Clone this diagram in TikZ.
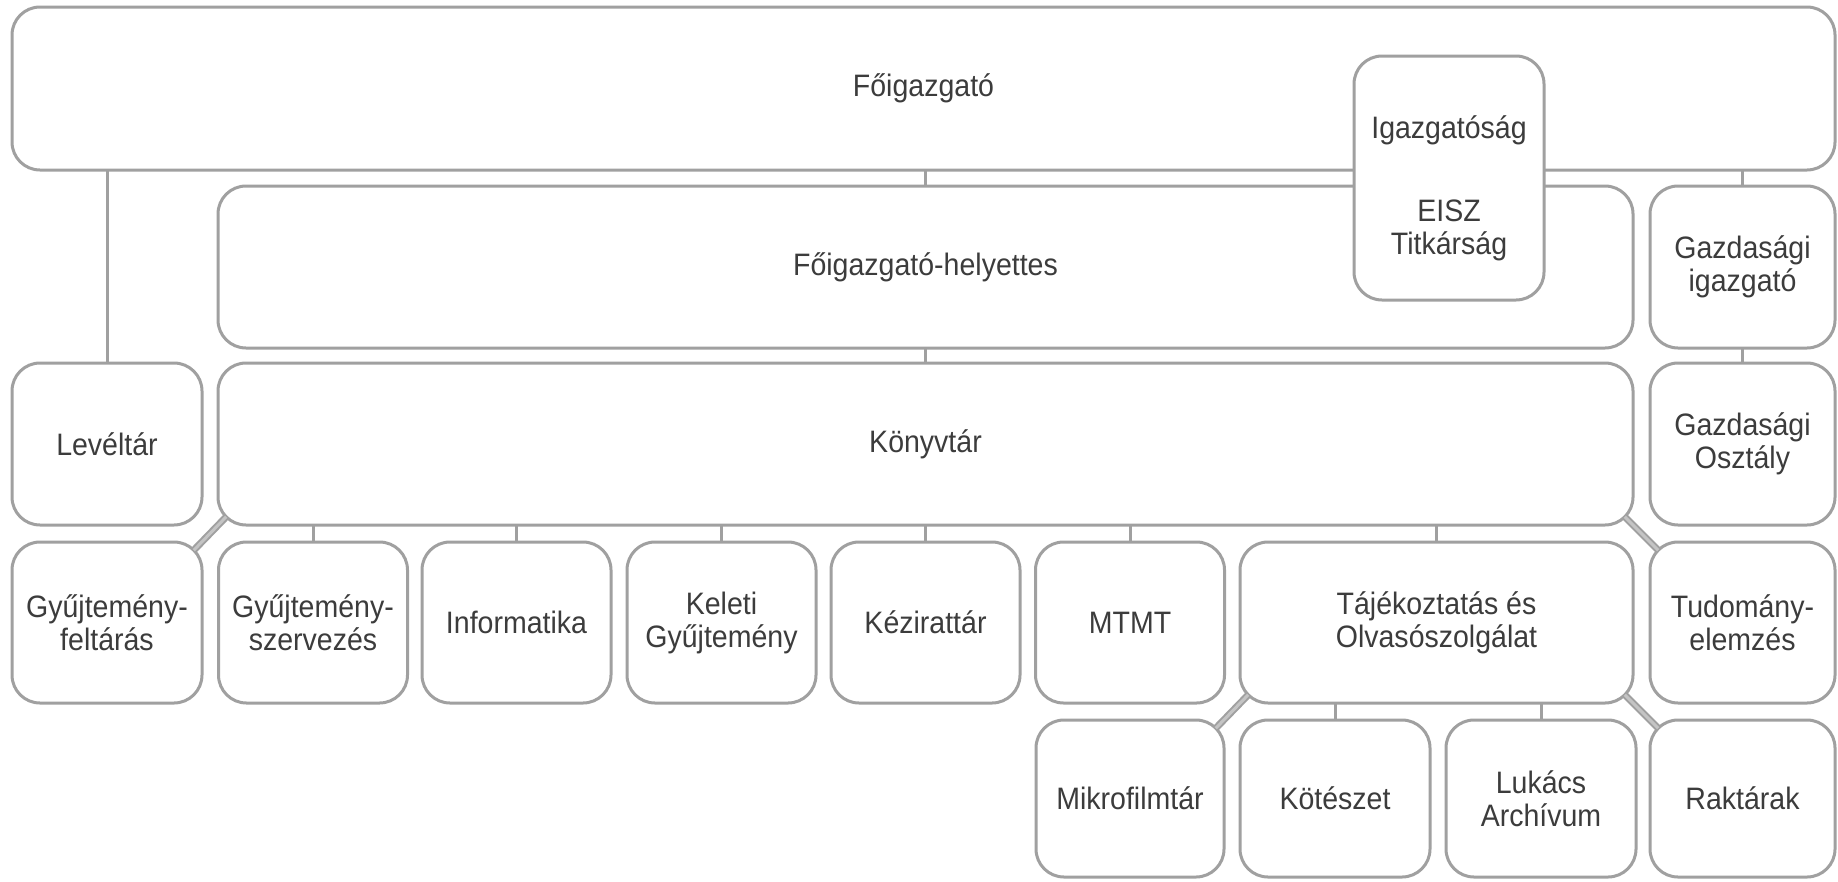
\documentclass[tikz,border=0pt]{standalone}
\usepackage{fontspec}
\setmainfont{Liberation Sans}[FakeStretch=0.92]
\usetikzlibrary{calc}
\definecolor{linegray}{HTML}{A0A0A0}
\definecolor{textgray}{HTML}{3C3C3C}
\definecolor{diagin}{HTML}{C4C4C4}
\begin{document}
\begin{tikzpicture}[x=1pt,y=-1pt,
  box/.style={draw=linegray, line width=3pt, rounded corners=28pt, fill=white,
    align=center, inner sep=0pt, outer sep=0pt, text=textgray,
    font=\fontsize{31}{33}\selectfont},
  conn/.style={draw=linegray, line width=3pt},
  diag/.style={draw=linegray, line width=2pt, double=diagin, double distance=3pt},
  txt/.style={align=center, inner sep=0pt, text=textgray, font=\fontsize{31}{33}\selectfont}]
\fill[white] (0,0) rectangle (1838,881);
\useasboundingbox (0,0) rectangle (1838,881);
% level 0
\node[box, minimum width=1823pt, minimum height=163pt] (fo) at (923.5,88.5) {Főigazgató};
% level 1
\node[box, minimum width=1415pt, minimum height=162pt] (helyettes) at (925.5,267) {Főigazgató-helyettes};
\node[box, minimum width=185pt, minimum height=162pt] (gazdig) at (1742.5,267) {Gazdasági\\igazgató};
% Igazgatóság (overlapping)
\node[box, minimum width=190pt, minimum height=244pt] (igaz) at (1449,178) {};
\node[txt] (igaztext) at (1449,188) {Igazgatóság\\[50pt]EISZ\\Titkárság};
% level 2
\node[box, minimum width=190pt, minimum height=162pt] (leveltar) at (107,444) {Levéltár};
\node[box, minimum width=1415pt, minimum height=162pt] (konyvtar) at (925.5,444) {Könyvtár};
\node[box, minimum width=185pt, minimum height=162pt] (gazdoszt) at (1742.5,444) {Gazdasági\\Osztály};
% level 3
\node[box, minimum width=190pt, minimum height=161pt] (gyf) at (107,622.5) {Gyűjtemény-\\feltárás};
\node[box, minimum width=189pt, minimum height=161pt] (gysz) at (313,622.5) {Gyűjtemény-\\szervezés};
\node[box, minimum width=189pt, minimum height=161pt] (inf) at (516.5,622.5) {Informatika};
\node[box, minimum width=189pt, minimum height=161pt] (kel) at (721.5,622.5) {Keleti\\Gyűjtemény};
\node[box, minimum width=189pt, minimum height=161pt] (kez) at (925.5,622.5) {Kézirattár};
\node[box, minimum width=189pt, minimum height=161pt] (mtmt) at (1130,622.5) {MTMT};
\node[box, minimum width=393pt, minimum height=161pt] (taj) at (1436.5,622.5) {Tájékoztatás és\\Olvasószolgálat};
\node[box, minimum width=185pt, minimum height=161pt] (tud) at (1742.5,622.5) {Tudomány-\\elemzés};
% level 4
\node[box, minimum width=188pt, minimum height=157pt] (mikro) at (1130,798.5) {Mikrofilmtár};
\node[box, minimum width=190pt, minimum height=157pt] (kot) at (1335,798.5) {Kötészet};
\node[box, minimum width=190pt, minimum height=157pt] (luk) at (1541,798.5) {Lukács\\Archívum};
\node[box, minimum width=185pt, minimum height=157pt] (rakt) at (1742.5,798.5) {Raktárak};
% connectors
\draw[conn] (leveltar.north) -- (leveltar.north |- fo.south);
\draw[conn] (helyettes.north) -- (helyettes.north |- fo.south);
\draw[conn] (gazdig.north) -- (gazdig.north |- fo.south);
\draw[conn] (konyvtar.north) -- (konyvtar.north |- helyettes.south);
\draw[conn] (gazdoszt.north) -- (gazdoszt.north |- gazdig.south);
\foreach \n in {gysz,inf,kel,kez,mtmt,taj}
  \draw[conn] (\n.north) -- (\n.north |- konyvtar.south);
\foreach \n in {kot,luk}
  \draw[conn] (\n.north) -- (\n.north |- taj.south);
\draw[diag] ($(konyvtar.south west)+(8.2,-8.2)$) -- ($(gyf.north east)+(-8.2,8.2)$);
\draw[diag] ($(konyvtar.south east)+(-8.2,-8.2)$) -- ($(tud.north west)+(8.2,8.2)$);
\draw[diag] ($(taj.south west)+(8.2,-8.2)$) -- ($(mikro.north east)+(-8.2,8.2)$);
\draw[diag] ($(taj.south east)+(-8.2,-8.2)$) -- ($(rakt.north west)+(8.2,8.2)$);
\end{tikzpicture}
\end{document}
